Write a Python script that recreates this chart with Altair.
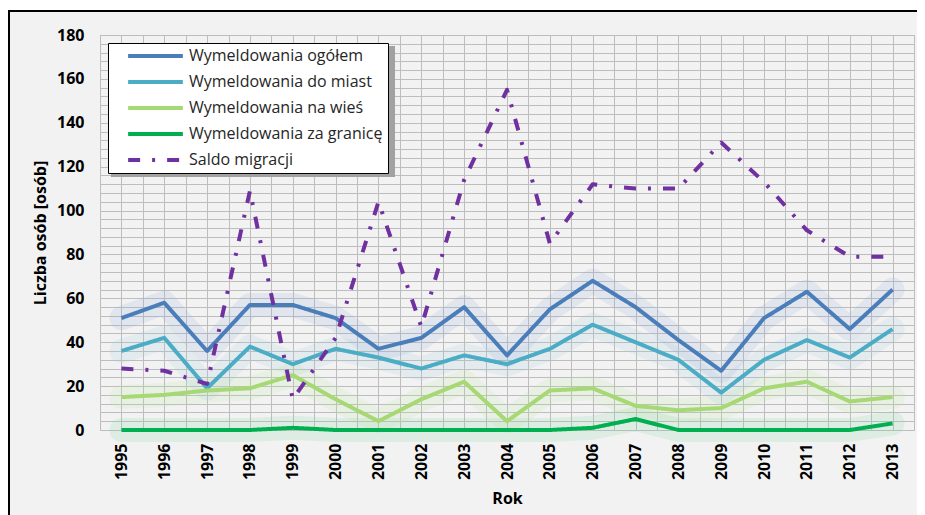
import altair as alt
import pandas as pd

years = list(range(1995, 2014))
series_names = [
    "Wymeldowania ogółem",
    "Wymeldowania do miast",
    "Wymeldowania na wieś",
    "Wymeldowania za granicę",
    "Saldo migracji",
]
ogolem = [51, 58, 36, 57, 57, 51, 37, 42, 56, 34, 55, 68, 56, 41, 27, 51, 63, 46, 64]
do_miast = [36, 42, 19, 38, 30, 37, 33, 28, 34, 30, 37, 48, 40, 32, 17, 32, 41, 33, 46]
na_wies = [15, 16, 18, 19, 25, 14, 4, 14, 22, 4, 18, 19, 11, 9, 10, 19, 22, 13, 15]
za_granice = [0, 0, 0, 0, 1, 0, 0, 0, 0, 0, 0, 1, 5, 0, 0, 0, 0, 0, 3]
saldo = [28, 27, 21, 109, 14, 42, 104, 47, 114, 155, 85, 112, 110, 110, 131, 113, 91, 79, 79]

colors = ["#4A7EBB", "#4BACC6", "#A6D873", "#00B050", "#7030A0"]
glow_colors = ["#8FA9D6", "#9CCBDD", "#B7E39A", "#7FD6A0"]

rows = []
for name, vals in zip(series_names, [ogolem, do_miast, na_wies, za_granice, saldo]):
    for y, v in zip(years, vals):
        rows.append({"Rok": y, "Wartosc": v, "Seria": name})
df = pd.DataFrame(rows)
glow_df = df[df["Seria"] != "Saldo migracji"]

x_grid = [1994.5 + 0.5 * i for i in range(39)]
y_grid = list(range(0, 181, 4))

x_enc = alt.X(
    "Rok:Q",
    scale=alt.Scale(domain=[1994.5, 2013.5], nice=False, zero=False),
    axis=alt.Axis(
        values=x_grid,
        labelExpr="datum.value % 1 == 0 ? format(datum.value, 'd') : ''",
        labelAngle=270,
        labelAlign="right",
        labelBaseline="middle",
        labelPadding=13,
        labelOverlap=False,
        ticks=False,
        domain=False,
        title="Rok",
        titlePadding=11,
    ),
)
y_enc = alt.Y(
    "Wartosc:Q",
    scale=alt.Scale(domain=[0, 180], nice=False),
    axis=alt.Axis(
        values=y_grid,
        labelExpr="datum.value % 20 == 0 ? datum.label : ''",
        labelPadding=16,
        ticks=False,
        domain=False,
        title="Liczba osób [osób]",
        titlePadding=8,
    ),
)

glow = alt.Chart(glow_df).mark_line(
    strokeWidth=24, opacity=0.17, strokeCap="round", strokeJoin="round"
).encode(
    x=x_enc,
    y=y_enc,
    stroke=alt.Stroke("Seria:N", scale=alt.Scale(domain=series_names[:4], range=glow_colors), legend=None),
)

legend_shadow = alt.Chart(df).mark_rect(color="#A0A0A0", opacity=0.35).encode(
    x=alt.value(11), x2=alt.value(295), y=alt.value(11), y2=alt.value(142)
)

lines = alt.Chart(df).mark_line(strokeJoin="round").encode(
    x=x_enc,
    y=y_enc,
    color=alt.Color(
        "Seria:N",
        scale=alt.Scale(domain=series_names, range=colors),
        legend=alt.Legend(
            title=None,
            orient="none",
            legendX=8,
            legendY=8,
            symbolType="stroke",
            symbolSize=3000,
            symbolStrokeWidth=4,
            clipHeight=16,
            labelFontSize=16,
            labelFont="Open Sans",
            labelColor="#262626",
            labelLimit=400,
            rowPadding=10,
            padding=5,
            symbolOffset=13,
            labelOffset=4,
            fillColor="white",
            strokeColor="black",
        ),
    ),
    strokeDash=alt.StrokeDash(
        "Seria:N",
        scale=alt.Scale(domain=series_names, range=[[1, 0], [1, 0], [1, 0], [1, 0], [12, 12, 3, 12]]),
        legend=alt.Legend(title=None, orient="none", legendX=8, legendY=8),
    ),
    strokeWidth=alt.StrokeWidth(
        "Seria:N",
        scale=alt.Scale(domain=series_names, range=[4, 4, 4, 4, 3]),
        legend=None,
    ),
    order=alt.Order("Rok:Q"),
)

frame_top = alt.Chart(df).mark_rule(color="black", strokeWidth=2).encode(
    x=alt.value(-92), x2=alt.value(830), y=alt.value(-24)
)
frame_left = alt.Chart(df).mark_rule(color="black", strokeWidth=2).encode(
    x=alt.value(-91), y=alt.value(-24), y2=alt.value(480)
)
white_top = alt.Chart(df).mark_rect(color="white").encode(
    x=alt.value(-92), x2=alt.value(830), y=alt.value(-28), y2=alt.value(-25)
)

chart = alt.layer(white_top, frame_top, frame_left, legend_shadow, glow, lines).properties(
    width=814,
    height=395,
    autosize=alt.AutoSizeParams(type="none"),
    padding={"left": 92, "top": 27, "right": 3, "bottom": 85},
    background="#F2F2F2",
).configure_view(
    fill="#F2F2F2", stroke="#BFBFBF", strokeWidth=1
).configure_axis(
    grid=True,
    gridColor="#BDBDBD",
    gridWidth=1,
    labelFont="Open Sans",
    labelFontSize=16,
    labelFontWeight="bold",
    labelColor="#000000",
    titleFont="Open Sans",
    titleFontSize=16,
    titleFontWeight="bold",
    titleColor="#000000",
)

chart.save("out.html", embed_options={"renderer": "svg", "actions": False})
